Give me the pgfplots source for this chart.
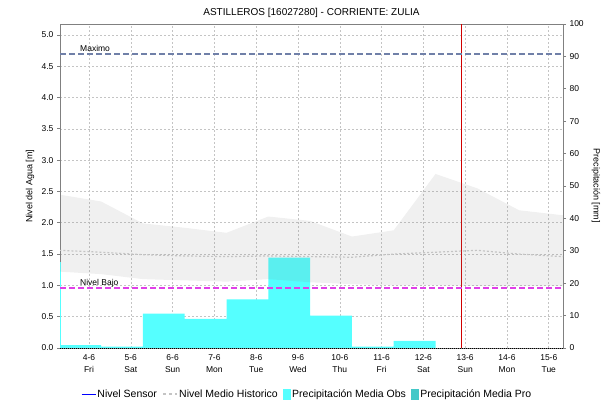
\documentclass[border=0pt]{standalone}
\usepackage{pgfplots}
\pgfplotsset{compat=1.18}
\usepackage{pgfplotstable}
\usepackage{fontspec}
\setmainfont{Liberation Sans}
\definecolor{obs}{HTML}{55FFFF}
\definecolor{pro}{HTML}{44C8C8}
\definecolor{maxc}{HTML}{7080A8}
\definecolor{bajo}{HTML}{E040E8}
\definecolor{gridc}{HTML}{C4C4C4}
\definecolor{axc}{HTML}{808080}
\definecolor{vred}{HTML}{D00000}
\pgfplotsset{
  base/.style={
    width=503pt, height=324pt, scale only axis,
    at={(60pt,57pt)}, anchor=south west,
    xmin=-0.694, xmax=11.34,
    tick label style={font=\fontsize{8.5}{10}\selectfont},
    /pgf/number format/assume math mode=true,
  }
}
% historical range band: upper edge left to right, then lower edge right to left
\pgfplotstableread{
x y
-0.71 2.45
0.29 2.34
1.29 1.99
2.29 1.92
3.29 1.84
4.29 2.10
5.29 2.03
6.29 1.78
7.29 1.88
8.29 2.78
9.29 2.55
10.29 2.20
11.34 2.12
11.34 0.99
10.29 0.99
9.29 0.99
8.29 1.00
7.29 1.00
6.29 1.02
5.29 1.05
4.29 1.10
3.29 1.06
2.29 1.08
1.29 1.10
0.29 1.18
-0.71 1.22
}\band
\pgfplotstableread{
x mean
-0.71 1.56
0.29 1.53
1.29 1.49
2.29 1.47
3.29 1.46
4.29 1.47
5.29 1.46
6.29 1.45
7.29 1.50
8.29 1.53
9.29 1.56
10.29 1.50
11.34 1.46
}\hist
\begin{document}
\begin{tikzpicture}
\path (0pt,0pt) rectangle (616pt,405pt);
% meters axis: grid, ticks
\begin{axis}[base,
  ymin=0, ymax=5.175,
  ytick={0,0.5,1,1.5,2,2.5,3,3.5,4,4.5,5},
  yticklabel style={/pgf/number format/.cd, fixed, fixed zerofill, precision=1},
  xtick={0,1,2,3,4,5,6,7,8,9,10,11},
  xticklabels={{4-6\\Fri},{5-6\\Sat},{6-6\\Sun},{7-6\\Mon},{8-6\\Tue},{9-6\\Wed},{10-6\\Thu},{11-6\\Fri},{12-6\\Sat},{13-6\\Sun},{14-6\\Mon},{15-6\\Tue}},
  xticklabel style={align=center, font=\fontsize{8.5}{12}\selectfont},
  grid=major, grid style={gridc, dash pattern=on 2pt off 2pt, line width=0.6pt},
  axis line style={axc, line width=0.8pt},
  ytick pos=left, tick align=outside, major tick length=3pt,
  xtick style={draw=none}, ytick style={axc, line width=0.8pt},
  ylabel={Nivel del Agua [m]},
  ylabel style={font=\fontsize{9}{10}\selectfont, at={(rel axis cs:-0.0596,0.5)}, anchor=center},
]
\addplot[draw=none, forget plot] coordinates {(0,0)};
\end{axis}
% mm axis: bars
\begin{axis}[base,
  ymin=0, ymax=100,
  axis y line*=right, axis x line=none,
  ytick={0,10,20,30,40,50,60,70,80,90,100},
  tick align=outside, major tick length=3pt,
  ytick style={axc, line width=0.8pt},
  axis line style={axc, line width=0.8pt},
  ylabel={Precipitación [mm]},
  ylabel style={font=\fontsize{9}{10}\selectfont, at={(rel axis cs:1.0656,0.5)}, anchor=center, rotate=180},
]
\addplot[const plot, fill=obs, draw=none] coordinates {
 (-1.70,0) (-1.70,26.5) (-0.675,0.9) (0.29,0.4) (1.29,10.6) (2.29,9.0) (3.29,15.0) (4.29,27.9) (5.29,10.0) (6.29,0.4) (7.29,2.2) (8.29,0)};
\addplot[vred, line width=0.8pt] coordinates {(8.9,0) (8.9,100)};
\end{axis}
% meters overlay
\begin{axis}[base,
  ymin=0, ymax=5.175, axis lines=none, xtick=\empty, ytick=\empty,
  legend style={at={(0.491,-0.142)}, anchor=center, draw=none, fill=none,
    legend columns=4, font=\fontsize{10.5}{12}\selectfont,
    /tikz/every even column/.append style={column sep=4pt},
    inner sep=0pt, nodes={inner sep=1.5pt}},
  legend cell align=left,
]
\addplot[fill=gray, fill opacity=0.12, draw=none, forget plot] table[x=x, y=y] {\band};
\addlegendimage{legend image code/.code={\draw[blue, line width=0.8pt] (0pt,0pt) -- (14pt,0pt);}}
\addlegendentry{Nivel Sensor}
\addplot[gridc, line width=1.2pt, dash pattern=on 2pt off 2pt,
  legend image code/.code={\draw[gridc, line width=1.2pt, dash pattern=on 3pt off 3pt] (0pt,0pt) -- (14pt,0pt);}]
  table[x=x, y=mean] {\hist};
\addlegendentry{Nivel Medio Historico}
\addlegendimage{legend image code/.code={\fill[obs] (0pt,-5pt) rectangle (7pt,5pt);}}
\addlegendentry{Precipitación Media Obs}
\addlegendimage{legend image code/.code={\fill[pro] (0pt,-5pt) rectangle (7pt,5pt);}}
\addlegendentry{Precipitación Media Pro}
\addplot[maxc, line width=2pt, dash pattern=on 6pt off 3pt, forget plot] coordinates {(-0.694,4.69) (11.34,4.69)};
\addplot[bajo, line width=2pt, dash pattern=on 6pt off 3pt, forget plot] coordinates {(-0.694,0.965) (11.34,0.965)};
\node[anchor=base west, inner sep=0pt, font=\fontsize{8.5}{10}\selectfont] at (axis cs:-0.215,4.69) [yshift=3pt] {Maximo};
\node[anchor=base west, inner sep=0pt, font=\fontsize{8.5}{10}\selectfont] at (axis cs:-0.215,0.965) [yshift=2.4pt] {Nivel Bajo};
\draw[black, line width=1pt, dash pattern=on 1pt off 1pt] (rel axis cs:0,0) -- (rel axis cs:1,0);
\end{axis}
\node[font=\fontsize{10}{12}\selectfont] at (311.5pt,392.5pt) {ASTILLEROS [16027280] - CORRIENTE: ZULIA};
\end{tikzpicture}
\end{document}
